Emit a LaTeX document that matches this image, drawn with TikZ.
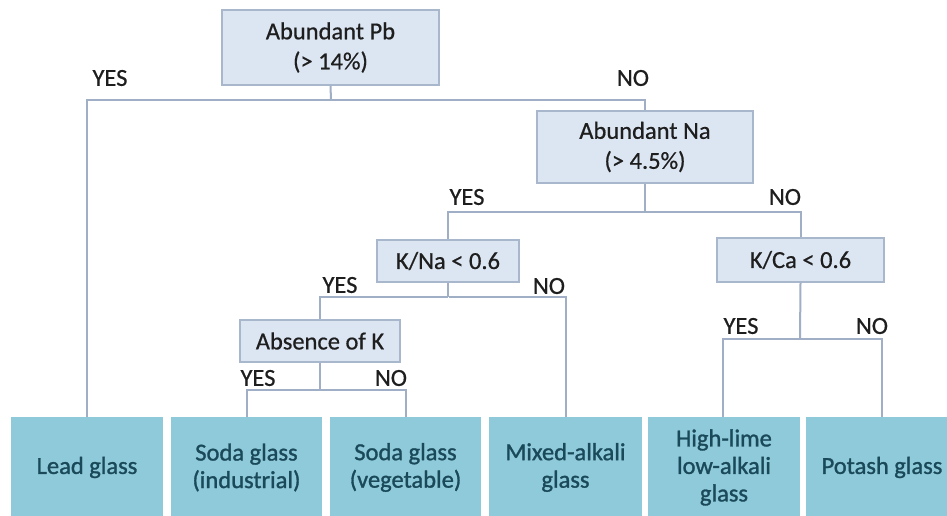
\documentclass[tikz,border=0pt]{standalone}
\usepackage{fontspec}
\setmainfont{Carlito}
\newfontfamily\leaffont[FakeBold=1.2]{Carlito}
\newfontfamily\decfont[FakeBold=0.6]{Carlito}
\definecolor{decfill}{HTML}{DCE6F2}
\definecolor{decdraw}{HTML}{A9B7CC}
\definecolor{linec}{HTML}{A0AEC6}
\definecolor{leaffill}{HTML}{8FCADA}
\definecolor{leaftext}{HTML}{1A4A5A}
\definecolor{txt}{HTML}{1E1E1E}
\tikzset{
  decbox/.style={draw=decdraw, line width=1.5pt, fill=decfill, text=txt, align=center,
    inner sep=0pt, font=\decfont\fontsize{24.5}{30}\selectfont},
  leafbox/.style={fill=leaffill, text=leaftext, align=center, inner sep=0pt,
    minimum width=152pt, minimum height=101pt, font=\leaffont\fontsize{24.5}{27.5}\selectfont},
  lbl/.style={text=txt, inner sep=0pt, font=\decfont\fontsize{24.5}{30}\selectfont},
  conn/.style={draw=linec, line width=2pt}
}
\begin{document}
\begin{tikzpicture}[x=1pt,y=-1pt]
\useasboundingbox (0,0) rectangle (947,516);
\fill[white] (0,0) rectangle (947,516);
\begin{scope}
\clip (0,0) rectangle (947,516);
% decision boxes
\node[decbox, minimum width=217pt, minimum height=75pt] (pb) at (330.5,47.5) {Abundant Pb\\(> 14\%)};
\node[decbox, minimum width=216pt, minimum height=72pt] (na) at (645,147) {Abundant Na\\(> 4.5\%)};
\node[decbox, minimum width=142pt, minimum height=42pt] (kna) at (448,261) {K/Na < 0.6};
\node[decbox, minimum width=160pt, minimum height=42pt] (absk) at (320,341) {Absence of K};
\node[decbox, minimum width=167pt, minimum height=44pt] (kca) at (800.5,260) {K/Ca < 0.6};
% leaves
\node[leafbox] (lead) at (87,467.5) {Lead glass};
\node[leafbox, minimum width=151pt] (sodai) at (246.5,467.5) {Soda glass\\(industrial)};
\node[leafbox, minimum width=151pt] (sodav) at (405.5,467.5) {Soda glass\\(vegetable)};
\node[leafbox, minimum width=153pt] (mixed) at (565.5,467.5) {Mixed-alkali\\glass};
\node[leafbox] (high) at (724,467.5) {High-lime\\low-alkali\\glass};
\node[leafbox] (potash) at (882,467.5) {Potash glass};
% bus points
\coordinate (b1) at (331,100);
\coordinate (b2) at (645,212);
\coordinate (b3) at (448,297);
\coordinate (b4) at (320,390);
\coordinate (b5) at (800,339);
% connectors
\draw[conn] (pb.south) -- (b1);
\draw[conn] (b1) -| (lead.north);
\draw[conn] (b1) -| (na.north);
\draw[conn] (na.south) -- (b2);
\draw[conn] (b2) -| (kna.north);
\draw[conn] (b2) -| (kca.north);
\draw[conn] (kna.south) -- (b3);
\draw[conn] (b3) -| (absk.north);
\draw[conn] ([xshift=0.5pt]b3) -| ([xshift=0.5pt]mixed.north);
\draw[conn] (absk.south) -- (b4);
\draw[conn] (b4) -| ([xshift=0.5pt]sodai.north);
\draw[conn] (b4) -| ([xshift=0.5pt]sodav.north);
\draw[conn] (kca.south) -- (b5);
\draw[conn] (b5) -| ([xshift=-1pt]high.north);
\draw[conn] (b5) -| (potash.north);
% labels
\node[lbl] (y1) at (110,78) {YES};
\node[lbl] (n1) at (633,78) {NO};
\node[lbl] (y2) at (467,197) {YES};
\node[lbl] (n2) at (785,197) {NO};
\node[lbl] (y3) at (340,285) {YES};
\node[lbl] (n3) at (549,286) {NO};
\node[lbl] (y4) at (258,378) {YES};
\node[lbl] (n4) at (391,378) {NO};
\node[lbl] (y5) at (741,326) {YES};
\node[lbl] (n5) at (872,326) {NO};
\end{scope}
\end{tikzpicture}
\end{document}
